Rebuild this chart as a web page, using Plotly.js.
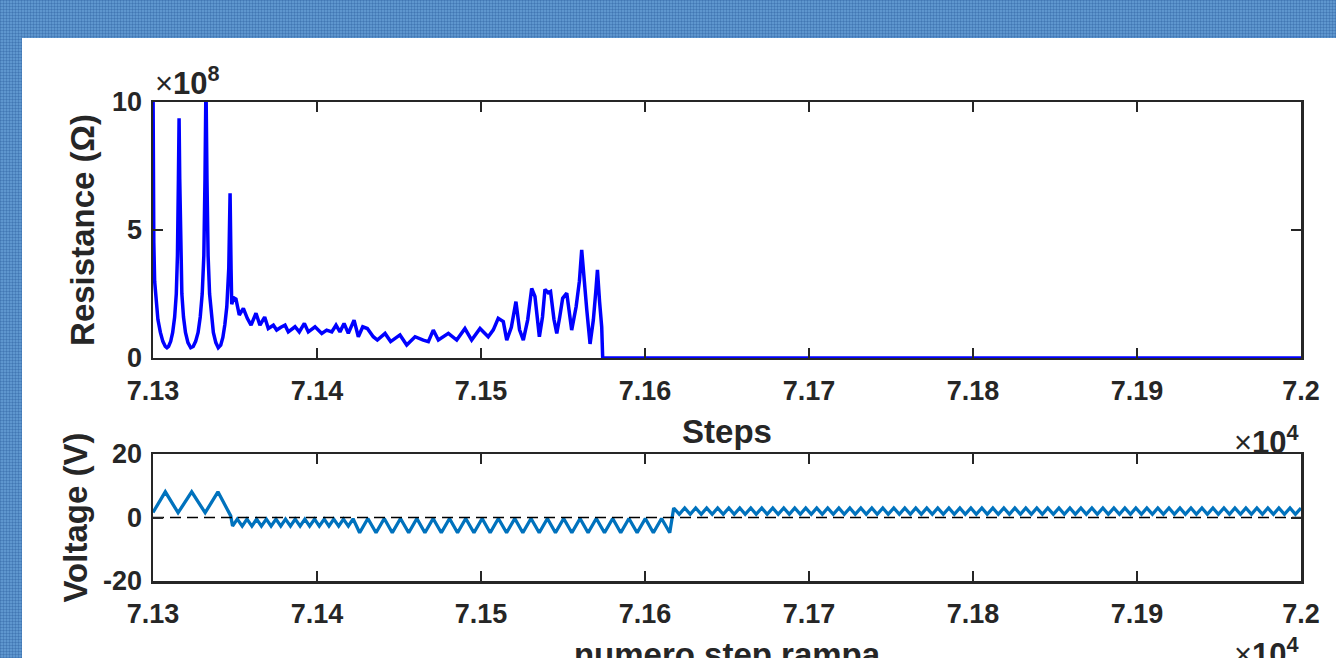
<!DOCTYPE html>
<html>
<head>
<meta charset="utf-8">
<script src="https://cdn.plot.ly/plotly-3.0.1.min.js"></script>
<style>
  html, body { margin:0; padding:0; }
  body {
    width:1336px; height:658px; overflow:hidden; position:relative;
    background-color:#5e96ce;
    background-image:
      repeating-linear-gradient(0deg, rgba(35,85,150,0.28) 0px, rgba(35,85,150,0.28) 1px, transparent 1px, transparent 3px),
      repeating-linear-gradient(90deg, rgba(35,85,150,0.28) 0px, rgba(35,85,150,0.28) 1px, transparent 1px, transparent 3px);
  }
  #panel { position:absolute; left:22px; top:38px; width:1314px; height:680px; background:#ffffff; }
</style>
</head>
<body>
<div id="panel"></div>
<script>
// ---------- data ----------
// Top subplot: resistance (units of 1e8 ohm) vs step
const resSteps = [71300.0, 71300.2, 71300.5, 71301.0, 71301.8, 71303.0, 71304.5, 71306.0, 71307.5, 71308.5,
  71309.5, 71310.8, 71312.0, 71313.2, 71314.2, 71314.9, 71315.5, 71315.9, 71316.3, 71316.9,
  71317.6, 71318.6, 71319.8, 71321.3, 71323.0, 71324.5, 71326.0, 71327.5, 71328.8, 71330.0,
  71331.0, 71331.7, 71332.3, 71332.9, 71333.6, 71334.5, 71335.6, 71336.8, 71338.3, 71339.8,
  71341.3, 71342.6, 71343.8, 71345.0, 71346.2, 71347.0, 71347.6, 71348.0, 71349.3, 71350.6,
  71352.6, 71355.1, 71357.5, 71359.8, 71362.8, 71365.2, 71368.1, 71370.3, 71373.4, 71375.4,
  71378.0, 71380.5, 71382.5, 71386.6, 71389.2, 71392.3, 71394.7, 71398.8, 71402.9, 71405.9,
  71409.0, 71411.6, 71414.0, 71416.5, 71419.1, 71422.6, 71425.2, 71427.9, 71430.7, 71434.3,
  71436.8, 71441.5, 71444.9, 71450.6, 71454.7, 71459.8, 71464.8, 71467.9, 71470.9, 71474.0,
  71480.1, 71485.2, 71490.2, 71494.3, 71499.4, 71504.4, 71507.5, 71510.5, 71513.6, 71515.7,
  71518.5, 71521.3, 71523.5, 71525.8, 71528.5, 71530.9, 71532.9, 71535.6, 71537.5, 71539.0,
  71541.0, 71542.4, 71544.5, 71546.2, 71548.0, 71549.8, 71552.3, 71555.3, 71558.0, 71560.0,
  71561.4, 71563.0, 71564.5, 71566.5, 71568.5, 71570.0, 71571.0, 71572.3, 71573.6, 71574.2,
  72000.0];
const resValues = [10.8, 7.0, 4.5, 3.0, 2.2, 1.5, 1.0, 0.65, 0.45, 0.4,
  0.45, 0.65, 1.0, 1.6, 2.5, 4.0, 7.0, 9.36, 7.0, 4.0,
  2.5, 1.6, 1.0, 0.6, 0.4, 0.45, 0.65, 1.0, 1.6, 2.5,
  4.0, 7.0, 10.8, 7.0, 4.0, 2.5, 1.6, 1.0, 0.6, 0.4,
  0.5, 0.8, 1.3, 2.0, 3.5, 6.43, 3.5, 2.1, 2.35, 2.3,
  1.68, 1.94, 1.55, 1.28, 1.75, 1.28, 1.6, 1.15, 1.28, 1.09,
  1.2, 1.28, 1.02, 1.22, 1.02, 1.35, 1.02, 1.22, 0.96, 1.09,
  1.02, 1.28, 1.02, 1.35, 0.96, 1.48, 0.83, 1.22, 1.15, 0.83,
  0.70, 0.96, 0.64, 0.90, 0.51, 0.83, 0.70, 0.64, 1.09, 0.70,
  0.96, 0.70, 1.15, 0.70, 1.15, 0.83, 1.1, 1.55, 1.42, 0.70,
  1.2, 2.2, 1.1, 0.70, 1.5, 2.72, 2.4, 0.83, 1.6, 2.68,
  2.55, 2.6, 1.5, 0.96, 1.6, 2.33, 2.53, 1.09, 2.0, 3.0,
  4.22, 2.8, 1.88, 0.55, 1.48, 2.6, 3.44, 2.2, 1.22, 0.0,
  0.0];

// Bottom subplot: voltage (V) vs step (vertices of the ramp signal)
const voltSteps = [71300.0, 71307.5, 71315.3, 71323.6, 71331.8, 71339.6, 71347.4,
  71348.5, 71351.4, 71354.4, 71357.3, 71360.3, 71363.2, 71366.1, 71369.1, 71372.0, 71375.0,
  71377.9, 71380.8, 71383.8, 71386.7, 71389.7, 71392.6, 71395.5, 71398.5, 71401.4, 71404.4,
  71407.3, 71410.2, 71413.2, 71416.1, 71419.1, 71422.0,
  71426.0, 71431.0, 71436.0, 71441.0, 71445.9, 71450.9, 71455.9, 71460.9, 71465.8, 71470.8,
  71475.8, 71480.8, 71485.7, 71490.7, 71495.7, 71500.7, 71505.6, 71510.6, 71515.6, 71520.6,
  71525.5, 71530.5, 71535.5, 71540.5, 71545.4, 71550.4, 71555.4, 71560.4, 71565.3, 71570.3,
  71575.3, 71580.3, 71585.2, 71590.2, 71595.2, 71600.2, 71605.1, 71610.1, 71615.1,
  71617.5, 71620.9, 71624.2, 71627.6, 71630.9, 71634.3, 71637.6, 71641.0, 71644.3, 71647.7,
  71651.1, 71654.4, 71657.8, 71661.1, 71664.5, 71667.8, 71671.2, 71674.5, 71677.9, 71681.2,
  71684.6, 71688.0, 71691.3, 71694.7, 71698.0, 71701.4, 71704.7, 71708.1, 71711.4, 71714.8,
  71718.2, 71721.5, 71724.9, 71728.2, 71731.6, 71734.9, 71738.3, 71741.6, 71745.0, 71748.3,
  71751.7, 71755.1, 71758.4, 71761.8, 71765.1, 71768.5, 71771.8, 71775.2, 71778.5, 71781.9,
  71785.3, 71788.6, 71792.0, 71795.3, 71798.7, 71802.0, 71805.4, 71808.7, 71812.1, 71815.4,
  71818.8, 71822.2, 71825.5, 71828.9, 71832.2, 71835.6, 71838.9, 71842.3, 71845.6, 71849.0,
  71852.4, 71855.7, 71859.1, 71862.4, 71865.8, 71869.1, 71872.5, 71875.8, 71879.2, 71882.5,
  71885.9, 71889.3, 71892.6, 71896.0, 71899.3, 71902.7, 71906.0, 71909.4, 71912.7, 71916.1,
  71919.5, 71922.8, 71926.2, 71929.5, 71932.9, 71936.2, 71939.6, 71942.9, 71946.3, 71949.6,
  71953.0, 71956.4, 71959.7, 71963.1, 71966.4, 71969.8, 71973.1, 71976.5, 71979.8, 71983.2,
  71986.5, 71989.9, 71993.3, 71996.6, 72000.0];
const voltValues = [1.6, 8.1, 1.5, 8.1, 1.5, 8.1, 0.5,
  -2.7, -0.5, -2.7, -0.5, -2.7, -0.5, -2.7, -0.5, -2.7, -0.5,
  -2.7, -0.5, -2.7, -0.5, -2.7, -0.5, -2.7, -0.5, -2.7, -0.5,
  -2.7, -0.5, -2.7, -0.5, -2.7, -0.4,
  -4.8, -0.3, -4.8, -0.3, -4.8, -0.3, -4.8, -0.3, -4.8, -0.3,
  -4.8, -0.3, -4.8, -0.3, -4.8, -0.3, -4.8, -0.3, -4.8, -0.3,
  -4.8, -0.3, -4.8, -0.3, -4.8, -0.3, -4.8, -0.3, -4.8, -0.3,
  -4.8, -0.3, -4.8, -0.3, -4.8, -0.3, -4.8, -0.3, -4.8,
  3.0, 1.0, 3.0, 1.0, 3.0, 1.0, 3.0, 1.0, 3.0, 1.0,
  3.0, 1.0, 3.0, 1.0, 3.0, 1.0, 3.0, 1.0, 3.0, 1.0,
  3.0, 1.0, 3.0, 1.0, 3.0, 1.0, 3.0, 1.0, 3.0, 1.0,
  3.0, 1.0, 3.0, 1.0, 3.0, 1.0, 3.0, 1.0, 3.0, 1.0,
  3.0, 1.0, 3.0, 1.0, 3.0, 1.0, 3.0, 1.0, 3.0, 1.0,
  3.0, 1.0, 3.0, 1.0, 3.0, 1.0, 3.0, 1.0, 3.0, 1.0,
  3.0, 1.0, 3.0, 1.0, 3.0, 1.0, 3.0, 1.0, 3.0, 1.0,
  3.0, 1.0, 3.0, 1.0, 3.0, 1.0, 3.0, 1.0, 3.0, 1.0,
  3.0, 1.0, 3.0, 1.0, 3.0, 1.0, 3.0, 1.0, 3.0, 1.0,
  3.0, 1.0, 3.0, 1.0, 3.0, 1.0, 3.0, 1.0, 3.0, 1.0,
  3.0, 1.0, 3.0, 1.0, 3.0, 1.0, 3.0, 1.0, 3.0, 1.0,
  3.0, 1.0, 3.0, 1.0, 3.0];

// Reference (zero) line in the voltage panel
const refSteps = [71300, 72000];
const refLevel = [0, 0];

// Axis ticks
const stepTicks = [71300, 71400, 71500, 71600, 71700, 71800, 71900, 72000];
const stepTickLabels = ['7.13', '7.14', '7.15', '7.16', '7.17', '7.18', '7.19', '7.2'];
const resTicks = [0, 5, 10];
const resTickLabels = ['0', '5', '10'];
const voltTicks = [-20, 0, 20];
const voltTickLabels = ['-20', '0', '20'];

// ---------- styling ----------
const FONT = 'Liberation Sans, Arial, Helvetica, sans-serif';
const INK = '#262626';
const tickFont = {family: FONT, size: 27, color: INK, weight: 'bold'};
const titleFont = {family: FONT, size: 33, color: INK, weight: 'bold'};

function xAxis(anchor, title, standoff) {
  return {
    anchor: anchor, domain: [0, 1], range: [71300, 72000],
    tickmode: 'array', tickvals: stepTicks, ticktext: stepTickLabels,
    ticks: 'inside', ticklen: 10, tickwidth: 2, tickcolor: INK,
    showline: true, linewidth: 2.5, linecolor: INK, mirror: 'ticks',
    showgrid: false, zeroline: false, tickfont: tickFont, ticklabelstandoff: 7,
    title: {text: title, font: titleFont, standoff: standoff}
  };
}
function yAxis(anchor, domain, range, vals, labels, title, standoff) {
  return {
    anchor: anchor, domain: domain, range: range,
    tickmode: 'array', tickvals: vals, ticktext: labels,
    ticks: 'inside', ticklen: 10, tickwidth: 2, tickcolor: INK,
    showline: true, linewidth: 2.5, linecolor: INK, mirror: 'ticks',
    showgrid: false, zeroline: false, tickfont: tickFont, ticklabelstandoff: 3,
    title: {text: title, font: titleFont, standoff: standoff}
  };
}

const traces = [
  {x: resSteps, y: resValues, xaxis: 'x', yaxis: 'y', type: 'scatter', mode: 'lines',
   line: {color: '#0000ff', width: 3.5}, name: 'Resistance'},
  {x: voltSteps, y: voltValues, xaxis: 'x2', yaxis: 'y2', type: 'scatter', mode: 'lines',
   line: {color: '#0072bd', width: 3.3}, name: 'Voltage'},
  {x: refSteps, y: refLevel, xaxis: 'x2', yaxis: 'y2', type: 'scatter', mode: 'lines',
   line: {color: '#000000', width: 1.5, dash: '11px,6px'}, name: 'zero'}
];

const layout = {
  width: 1314, height: 680,
  margin: {l: 131, r: 35, t: 64, b: 137, pad: 0},
  paper_bgcolor: '#ffffff', plot_bgcolor: '#ffffff',
  showlegend: false,
  font: {family: FONT, color: INK},
  xaxis: xAxis('y', 'Steps', 15),
  yaxis: yAxis('x', [0.4656, 1], [0, 10], resTicks, resTickLabels, 'Resistance (Ω)', 8),
  xaxis2: xAxis('y2', 'numero step rampa', 15),
  yaxis2: yAxis('x2', [0, 0.2651], [-20, 20], voltTicks, voltTickLabels, 'Voltage (V)', 6),
  annotations: [
    {xref: 'x domain', yref: 'y domain', x: 0, y: 1, xanchor: 'left', yanchor: 'bottom',
     yshift: -1, text: '×<b>10<sup>8</sup></b>', showarrow: false,
     font: {family: FONT, size: 31, color: INK}},
    {xref: 'x domain', yref: 'y domain', x: 1, y: -0.32, xanchor: 'right', yanchor: 'middle',
     text: '×<b>10<sup>4</sup></b>', showarrow: false,
     font: {family: FONT, size: 31, color: INK}},
    {xref: 'x2 domain', yref: 'y2 domain', x: 1, y: -0.56, xanchor: 'right', yanchor: 'middle',
     text: '×<b>10<sup>4</sup></b>', showarrow: false,
     font: {family: FONT, size: 31, color: INK}}
  ]
};

Plotly.newPlot('panel', traces, layout, {displayModeBar: false, staticPlot: true});
</script>
</body>
</html>
